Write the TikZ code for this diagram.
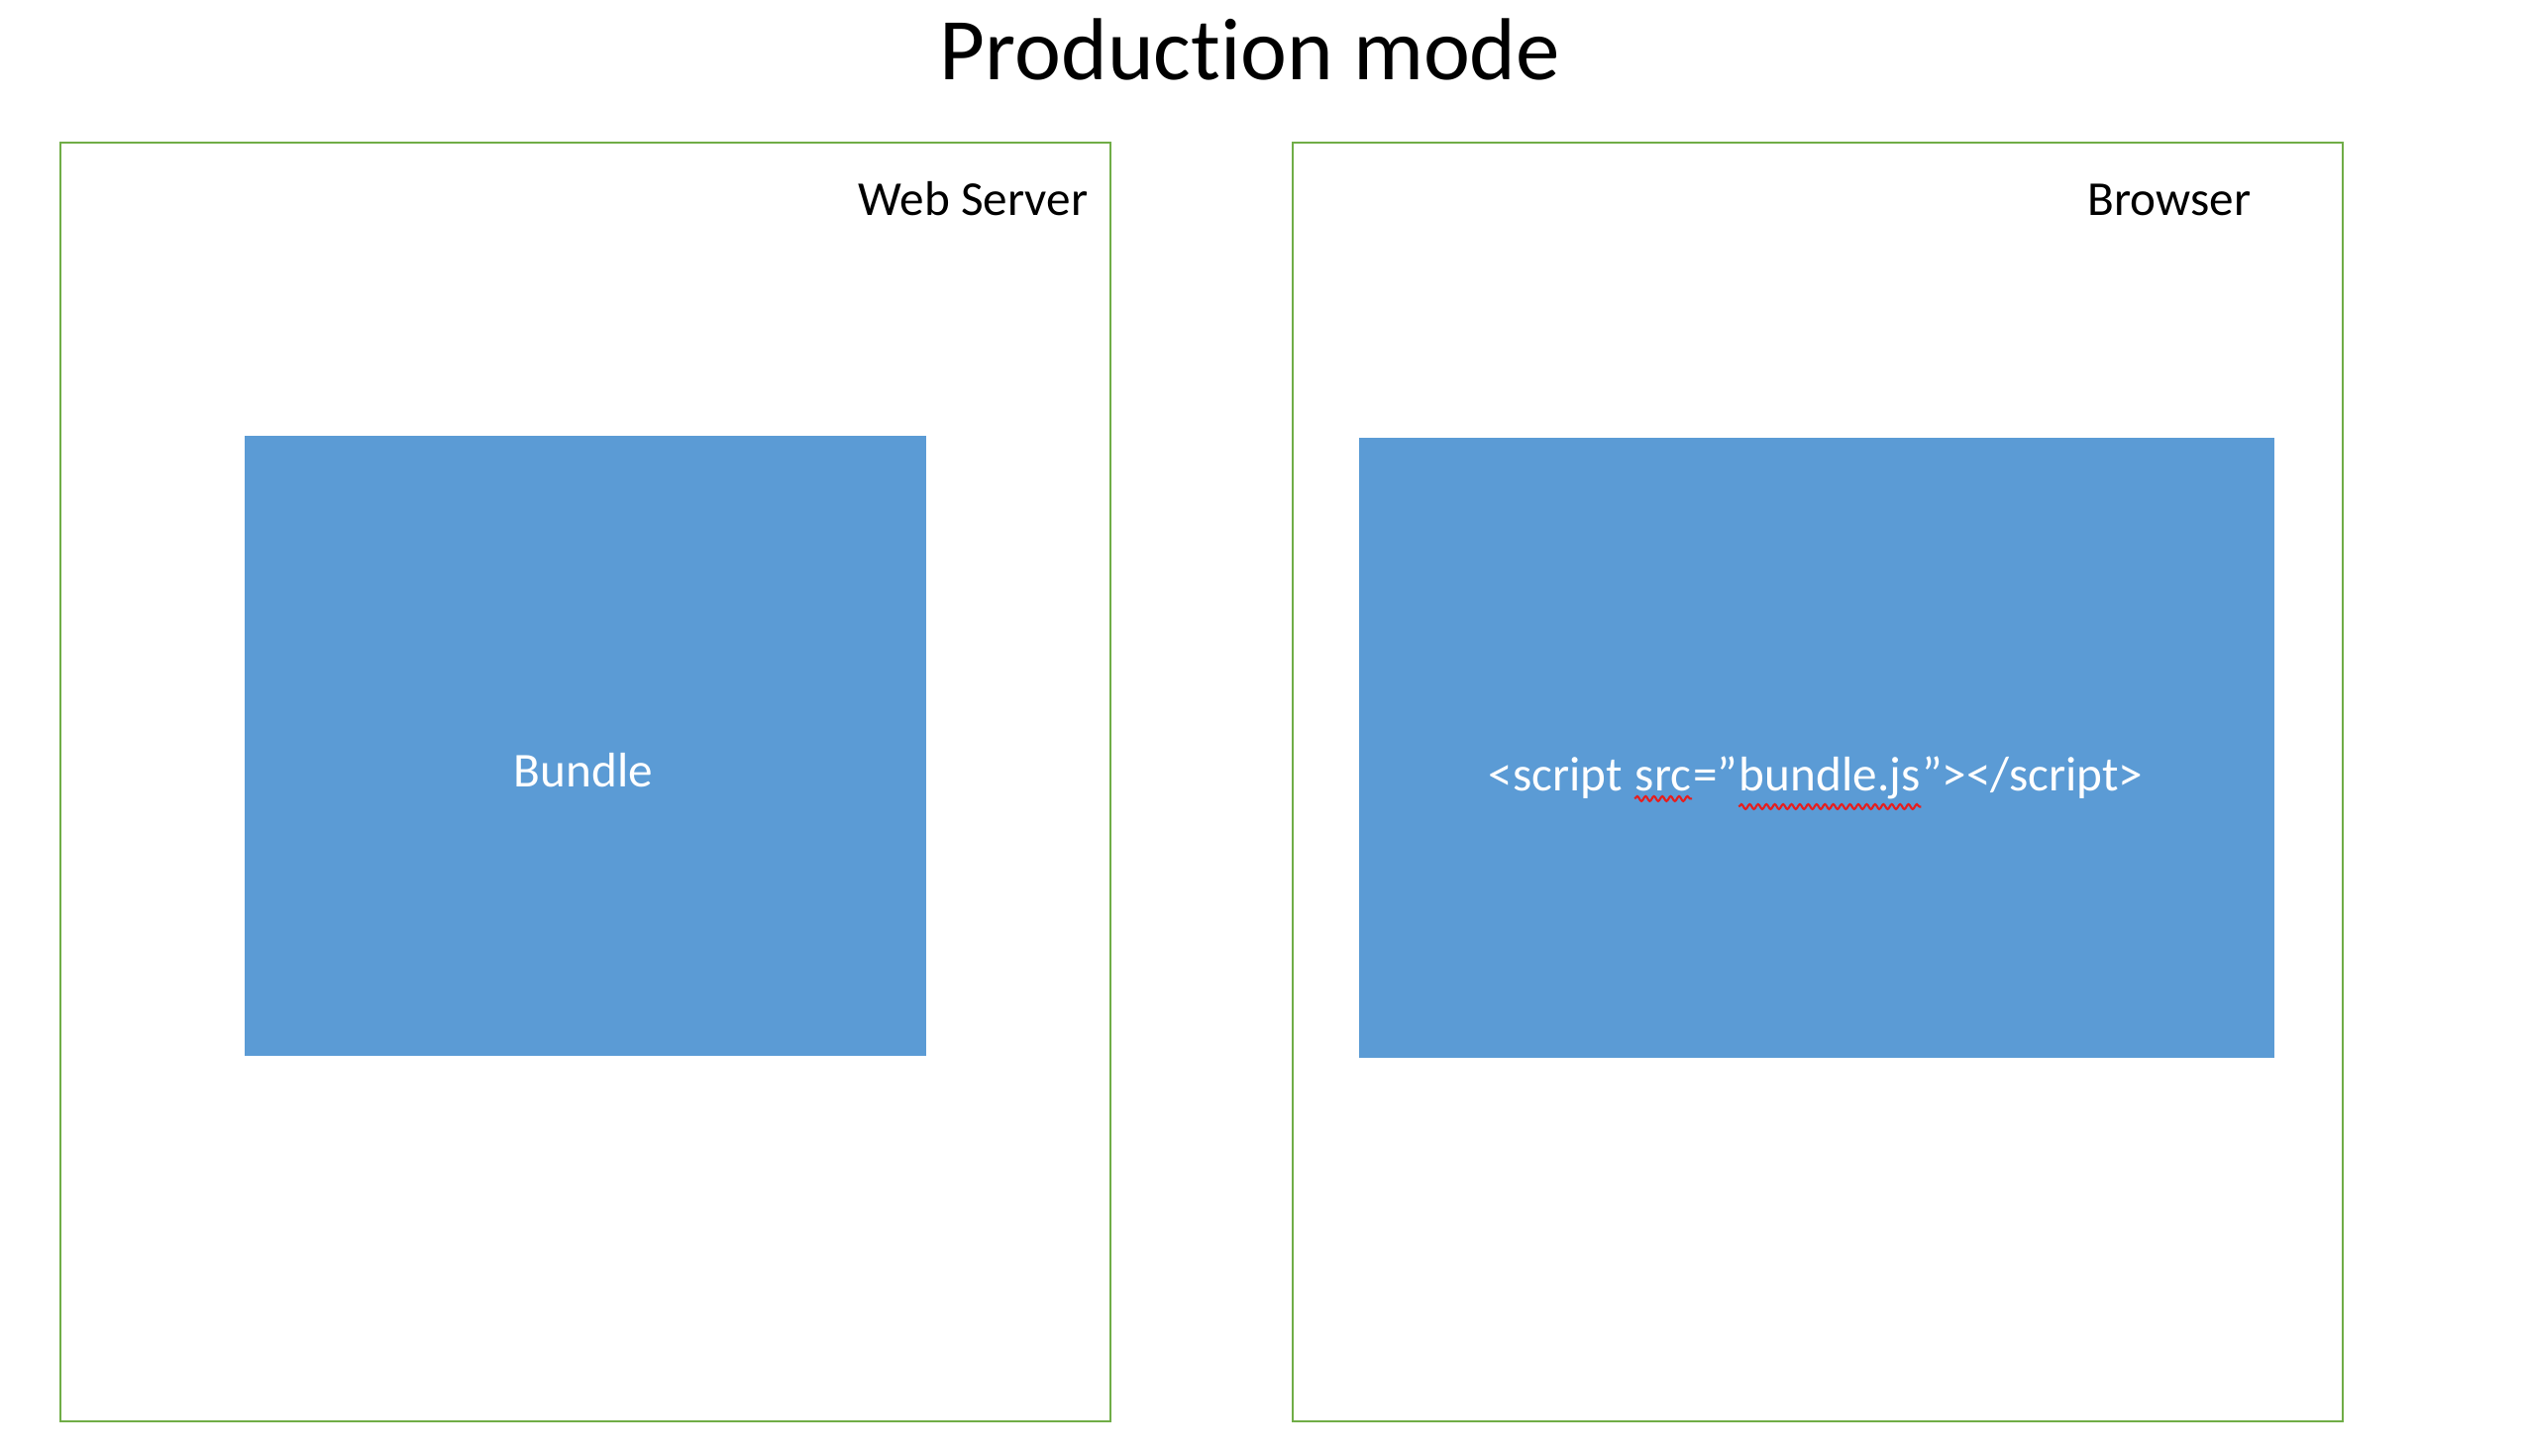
\documentclass[tikz,border=0pt]{standalone}
\usepackage{fontspec}
\setmainfont{Carlito}[Ligatures=NoCommon]
\usepackage{tikz}
\usetikzlibrary{decorations.pathmorphing}
\definecolor{boxgreen}{RGB}{112,173,71}
\definecolor{boxblue}{RGB}{91,155,213}
\definecolor{spellred}{RGB}{230,30,30}
\newcommand{\spellmark}[1]{\tikz[baseline=(w.base)]{\node[inner sep=0pt] (w) {#1};
    \draw[spellred, line width=0.6pt, decorate, decoration={snake, amplitude=0.7pt, segment length=2.4pt}]
        ([yshift=-1.8pt]w.south west) -- ([yshift=-1.8pt]w.south east);}}
\tikzset{
    machine/.style={draw=boxgreen, line width=0.6pt, rectangle, anchor=north west, minimum width=10.6cm, minimum height=12.91cm},
    content/.style={fill=boxblue, rectangle, anchor=north west, inner sep=0pt, minimum height=6.26cm},
    caption/.style={anchor=base, inner sep=0pt, font=\fontsize{14}{17}\selectfont},
    inside/.style={caption, text=white}
}
\begin{document}
\begin{tikzpicture}
    \useasboundingbox (0,0) rectangle (25.5,14.7);
    \node[caption, font=\fontsize{25.3}{30}\selectfont] (title) at (12.62,13.89) {Production mode};

    \node[machine] (server) at (0.60,13.27) {};
    \node[machine] (browser) at (13.04,13.27) {};
    \node[caption, anchor=base east] (serverlabel) at (10.99,12.52) {Web Server};
    \node[caption] (browserlabel) at (21.90,12.52) {Browser};

    \node[content, minimum width=6.88cm] (bundlebox) at (2.46,10.31) {};
    \node[content, minimum width=9.24cm] (pagebox) at (13.71,10.29) {};
    \node[inside] (bundlelabel) at (5.89,6.75) {Bundle};
    \node[inside] (scriptlabel) at (18.33,6.71) {<script \spellmark{src}=”\spellmark{bundle.js}”></script>};
\end{tikzpicture}
\end{document}
